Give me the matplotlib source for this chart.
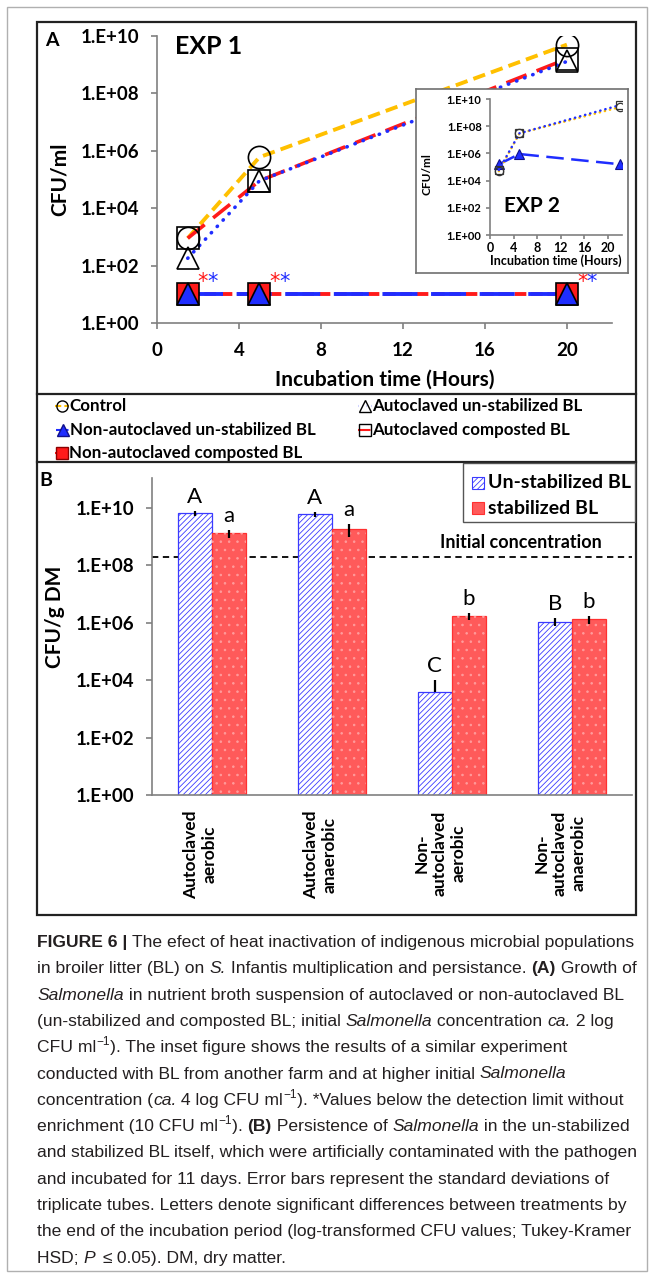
import numpy as np
import matplotlib
matplotlib.use('Agg')
import matplotlib.pyplot as plt
from matplotlib.patches import Rectangle
from matplotlib.lines import Line2D
from matplotlib.ticker import NullLocator
from matplotlib.transforms import ScaledTranslation

plt.rcParams['font.family'] = ['Lato', 'DejaVu Sans']
plt.rcParams['hatch.linewidth'] = 0.6

W, H = 654, 1277

# ---- panel A: EXP 1 (CFU/ml) ----
hours_exp1 = [1.5, 5, 20]
control_exp1 = [9.0e2, 6.0e5, 5.0e9]
auto_unstab_exp1 = [1.8e2, 9.0e4, 1.3e9]
auto_comp_exp1 = [9.0e2, 9.0e4, 1.6e9]
nonauto_unstab_exp1 = [10, 10, 10]
nonauto_comp_exp1 = [10, 10, 10]

# ---- inset: EXP 2 ----
hours_exp2 = [1.5, 5, 22]
control_exp2 = [5.0e4, 3.0e7, 2.5e9]
auto_exp2 = [6.0e4, 3.0e7, 3.5e9]
nonauto_exp2 = [1.6e5, 9.0e5, 1.6e5]

log_ticks = [1e0, 1e2, 1e4, 1e6, 1e8, 1e10]
log_labels = ['1.E+00', '1.E+02', '1.E+04', '1.E+06', '1.E+08', '1.E+10']

# ---- panel B: CFU/g DM after 11 days ----
treatments = ['Autoclaved\naerobic', 'Autoclaved\nanaerobic',
              'Non-\nautoclaved\naerobic', 'Non-\nautoclaved\nanaerobic']
unstab_cfu = [6.5e9, 6.0e9, 3.8e3, 1.1e6]
unstab_sd = [1.3e9, 1.0e9, 6.0e3, 0.35e6]
stab_cfu = [1.3e9, 1.9e9, 1.7e6, 1.3e6]
stab_sd = [0.4e9, 0.9e9, 0.5e6, 0.4e6]
unstab_letters = ['A', 'A', 'C', 'B']
stab_letters = ['a', 'a', 'b', 'b']
initial_cfu = 1.9e8

ORANGE = '#ffc000'
BLUE = '#1f2dff'
RED = '#ff1a1a'
AXCOL = '#808080'
CAPCOL = '#231f20'


def px_rect(x0, y0, x1, y1):
    return [x0 / W, 1 - y1 / H, (x1 - x0) / W, (y1 - y0) / H]


def style_log_axis(ax, size, pad):
    ax.set_yscale('log')
    ax.set_ylim(1, 1e10)
    ax.set_yticks(log_ticks)
    ax.set_yticklabels(log_labels, fontweight='bold', fontsize=size)
    ax.yaxis.set_minor_locator(NullLocator())
    for s in ['top', 'right']:
        ax.spines[s].set_visible(False)
    for s in ['left', 'bottom']:
        ax.spines[s].set_color(AXCOL)
        ax.spines[s].set_linewidth(1.2)
    ax.tick_params(direction='out', length=4, width=1.2, color=AXCOL, pad=pad)


fig = plt.figure(figsize=(W / 100, H / 100), dpi=100)

# full-figure pixel canvas for frames, legends and the caption
bg = fig.add_axes([0, 0, 1, 1], zorder=0)
bg.set_xlim(0, W)
bg.set_ylim(H, 0)
bg.axis('off')

bg.add_patch(Rectangle((7, 7), 640, 1264, fill=False, edgecolor='#b0b0b0', lw=1))
bg.add_patch(Rectangle((37, 22), 599, 893, fill=False, edgecolor='#222222', lw=1.6))
bg.plot([37, 636], [394, 394], color='#222222', lw=1.6)
bg.plot([37, 636], [462, 462], color='#222222', lw=1.6)
bg.text(52, 41, 'A', fontsize=14, fontweight='bold', ha='center', va='center')
bg.text(46, 480, 'B', fontsize=14, fontweight='bold', ha='center', va='center')

# ---------------- panel A ----------------
axA = fig.add_axes(px_rect(157, 36, 612, 323), zorder=1)
axA.set_facecolor('none')
style_log_axis(axA, 13.5, 9)
axA.set_xlim(0, 22.2)
axA.set_xticks([0, 4, 8, 12, 16, 20])
axA.set_xticklabels(['0', '4', '8', '12', '16', '20'], fontweight='bold', fontsize=13.5)
axA.tick_params(axis='x', pad=10)
axA.set_xlabel('Incubation time (Hours)', fontsize=15, fontweight='bold', va='center')
axA.xaxis.set_label_coords(0.5, -(380 - 323) / 287)
axA.set_ylabel('CFU/ml', fontsize=15, fontweight='bold', va='center')
axA.yaxis.set_label_coords((60 - 157) / 455, 0.5)

axA.plot(hours_exp1, nonauto_comp_exp1, color=RED, lw=2.8, dashes=(3, 1.2), zorder=2)
axA.plot(hours_exp1, nonauto_unstab_exp1, color=BLUE, lw=2.8, dashes=(9, 3.5), zorder=2)
axA.plot(hours_exp1, control_exp1, color=ORANGE, lw=2.8, dashes=(3.2, 1.6), zorder=2)
axA.plot(hours_exp1, auto_comp_exp1, color=RED, lw=2.6, dashes=(6, 3), zorder=2)
axA.plot(hours_exp1, auto_unstab_exp1, color=BLUE, lw=2.6, dashes=(0.1, 2.3),
         dash_capstyle='round', zorder=2)

mk = dict(ls='none', ms=16, mec='black', mew=1.2, zorder=3)
axA.plot(hours_exp1, control_exp1, marker='o', mfc='none', **mk)
axA.plot(hours_exp1, auto_comp_exp1, marker='s', mfc='none', **mk)
axA.plot(hours_exp1, auto_unstab_exp1, marker='^', mfc='none', **mk)
axA.plot(hours_exp1, nonauto_comp_exp1, marker='s', mfc=RED, **mk)
axA.plot(hours_exp1, nonauto_unstab_exp1, marker='^', mfc=BLUE, **mk)

# below detection limit without enrichment
for h, v in zip(hours_exp1, nonauto_unstab_exp1):
    axA.annotate('*', (h, v), xytext=(11, 9), textcoords='offset points', color=RED,
                 fontsize=15, ha='center', va='center', family='DejaVu Sans')
    axA.annotate('*', (h, v), xytext=(18, 9), textcoords='offset points', color=BLUE,
                 fontsize=15, ha='center', va='center', family='DejaVu Sans')

axA.text((175 - 157) / 455, 1 - (46 - 36) / 287, 'EXP 1', transform=axA.transAxes,
         fontsize=18, fontweight='bold', va='center', ha='left')

# ---------------- inset (EXP 2) ----------------
frame = fig.add_axes(px_rect(416, 89, 628, 273), zorder=2)
frame.set_xticks([])
frame.set_yticks([])
for s in frame.spines.values():
    s.set_color('#707070')
    s.set_linewidth(1.2)

axI = fig.add_axes(px_rect(490, 99, 622, 235), zorder=3)
axI.set_facecolor('none')
style_log_axis(axI, 8, 3)
axI.tick_params(length=3)
axI.set_xlim(0, 22.4)
axI.set_xticks([0, 4, 8, 12, 16, 20])
axI.set_xticklabels(['0', '4', '8', '12', '16', '20'], fontweight='bold', fontsize=9)
axI.tick_params(axis='x', pad=2)
axI.set_xlabel('Incubation time (Hours)', fontsize=9, fontweight='bold', labelpad=0)
axI.set_ylabel('CFU/ml', fontsize=8.5, fontweight='bold', va='center')
axI.yaxis.set_label_coords((427 - 490) / 132, 0.45)

axI.plot(hours_exp2, nonauto_exp2, color=BLUE, lw=1.8, dashes=(7, 3), marker='^', ms=7,
         mfc=BLUE, mec='#10108a', mew=0.8)
axI.plot(hours_exp2, control_exp2, color=ORANGE, lw=1.8, dashes=(0.1, 2),
         dash_capstyle='round', marker='o', ms=6, mfc='none', mec='#333333', mew=0.9)
axI.plot(hours_exp2, auto_exp2, color=BLUE, lw=1.8, dashes=(0.1, 2),
         dash_capstyle='round', marker='s', ms=6, mfc='none', mec='#333333', mew=0.9)
axI.text((532 - 490) / 132, 1 - (206 - 99) / 136, 'EXP 2', transform=axI.transAxes,
         fontsize=15, fontweight='bold', ha='center', va='center')

# ---------------- legend for panel A ----------------
legend_rows = [
    (62, 406, 'Control', ORANGE, (3, 1.5), 'o', 'none', 'black'),
    (365, 406, 'Autoclaved un-stabilized BL', BLUE, (0.1, 2), '^', 'none', 'black'),
    (63, 430, 'Non-autoclaved un-stabilized BL', BLUE, (6, 2), '^', BLUE, '#10108a'),
    (365, 430, 'Autoclaved composted BL', RED, (6, 2), 's', 'none', 'black'),
    (62, 453, 'Non-autoclaved composted BL', RED, (6, 2), 's', RED, '#8a0000'),
]
for x, y, label, col, dsh, m, fc, ec in legend_rows:
    bg.add_line(Line2D([x - 7, x + 7], [y, y], color=col, lw=1.5, dashes=dsh))
    bg.add_line(Line2D([x], [y], ls='none', marker=m, ms=8, mfc=fc, mec=ec, mew=1))
    bg.text(x + 7, y, label, fontsize=12.2, fontweight='bold', va='center', ha='left')

# ---------------- panel B ----------------
axB = fig.add_axes(px_rect(152, 478, 632, 795), zorder=1)
axB.set_facecolor('none')
style_log_axis(axB, 13.5, 9)
axB.set_ylim(1, 1.1e11)
axB.set_ylabel('CFU/g DM', fontsize=15, fontweight='bold', va='center')
axB.yaxis.set_label_coords((55 - 152) / 480, (795 - 617) / 317)

xs = np.arange(len(treatments))
bw = 0.285
unstab = np.array(unstab_cfu)
stab = np.array(stab_cfu)
u_sd = np.array(unstab_sd)
s_sd = np.array(stab_sd)

axB.bar(xs - bw / 2, unstab, bw, color='white', edgecolor='#3a3aff', hatch='//////',
        lw=0.9, zorder=2)
axB.bar(xs + bw / 2, stab, bw, color='#ff5a5a', edgecolor='#ff3030', lw=0.9, zorder=2)
axB.bar(xs + bw / 2, stab, bw, color='none', edgecolor='#ff9c9c', hatch='..', lw=0,
        zorder=2)

u_lo = np.where(u_sd >= unstab, 0, u_sd)
s_lo = np.where(s_sd >= stab, 0, s_sd)
axB.errorbar(xs - bw / 2, unstab, yerr=[u_lo, u_sd], fmt='none', ecolor='black',
             elinewidth=1.6, capsize=0, zorder=3)
axB.errorbar(xs + bw / 2, stab, yerr=[s_lo, s_sd], fmt='none', ecolor='black',
             elinewidth=1.6, capsize=0, zorder=3)

for i in range(len(treatments)):
    axB.annotate(unstab_letters[i], (xs[i] - bw / 2, unstab[i] + u_sd[i]), xytext=(0, 3),
                 textcoords='offset points', ha='center', va='bottom', fontsize=16)
    axB.annotate(stab_letters[i], (xs[i] + bw / 2, stab[i] + s_sd[i]), xytext=(0, 3),
                 textcoords='offset points', ha='center', va='bottom', fontsize=16)

axB.axhline(initial_cfu, color='black', lw=1.3, dashes=(3.5, 2.5), zorder=1)
axB.annotate('Initial concentration', (2.57, initial_cfu), xytext=(0, 11),
             textcoords='offset points', ha='center', va='center', fontsize=13,
             fontweight='bold')

axB.set_xlim(-0.5, 3.5)
axB.set_xticks(xs)
axB.set_xticklabels(treatments, rotation=90, fontweight='bold', fontsize=12.5,
                    va='top', ha='center', multialignment='center')
axB.tick_params(axis='x', length=0, pad=11)
shift = ScaledTranslation(-12 / 100, 0, fig.dpi_scale_trans)
for lbl in axB.get_xticklabels():
    lbl.set_transform(lbl.get_transform() + shift)

# legend for panel B
bg.add_patch(Rectangle((463, 463), 172, 59, facecolor='white', edgecolor='#555555',
                       lw=1, zorder=3))
bg.add_patch(Rectangle((472, 477), 12, 12, facecolor='white', edgecolor='#3a3aff',
                       hatch='//////', lw=0.8, zorder=4))
bg.add_patch(Rectangle((472, 502), 12, 12, facecolor='#ff5a5a', edgecolor='#ff3030',
                       lw=0.8, zorder=4))
bg.text(488, 483, 'Un-stabilized BL', fontsize=14, fontweight='bold', va='center',
        zorder=5)
bg.text(488, 508, 'stabilized BL', fontsize=14, fontweight='bold', va='center', zorder=5)

# ---------------- caption ----------------
caption = [
    [('FIGURE 6 | ', 'b'), ('The efect of heat inactivation of indigenous microbial populations', 'n')],
    [('in broiler litter (BL) on ', 'n'), ('S.', 'i'), (' Infantis multiplication and persistance. ', 'n'),
     ('(A)', 'b'), (' Growth of', 'n')],
    [('Salmonella', 'i'), (' in nutrient broth suspension of autoclaved or non-autoclaved BL', 'n')],
    [('(un-stabilized and composted BL; initial ', 'n'), ('Salmonella', 'i'), (' concentration ', 'n'),
     ('ca.', 'i'), (' 2 log', 'n')],
    [('CFU ml', 'n'), ('\u22121', 's'), ('). The inset figure shows the results of a similar experiment', 'n')],
    [('conducted with BL from another farm and at higher initial ', 'n'), ('Salmonella', 'i')],
    [('concentration (', 'n'), ('ca.', 'i'), (' 4 log CFU ml', 'n'), ('\u22121', 's'),
     ('). *Values below the detection limit without', 'n')],
    [('enrichment (10 CFU ml', 'n'), ('\u22121', 's'), ('). ', 'n'), ('(B)', 'b'), (' Persistence of ', 'n'),
     ('Salmonella', 'i'), (' in the un-stabilized', 'n')],
    [('and stabilized BL itself, which were artificially contaminated with the pathogen', 'n')],
    [('and incubated for 11 days. Error bars represent the standard deviations of', 'n')],
    [('triplicate tubes. Letters denote significant differences between treatments by', 'n')],
    [('the end of the incubation period (log-transformed CFU values; Tukey-Kramer', 'n')],
    [('HSD; ', 'n'), ('P', 'i'), ('  ', 'n'), ('\u2264', 'n'), (' 0.05). DM, dry matter.', 'n')],
]

cap_font = ['Liberation Sans', 'DejaVu Sans']
cap_size = 12.6
styles = {
    'n': dict(fontsize=cap_size),
    'b': dict(fontsize=cap_size, fontweight='bold'),
    'i': dict(fontsize=cap_size, style='italic'),
    's': dict(fontsize=cap_size * 0.68),
}
renderer = fig.canvas.get_renderer()


def run_width(txt, kw):
    a = bg.text(0, 0, '.' + txt + '.', family=cap_font, **kw)
    b = bg.text(0, 0, '..', family=cap_font, **kw)
    w = a.get_window_extent(renderer).width - b.get_window_extent(renderer).width
    a.remove()
    b.remove()
    return w


for i, line in enumerate(caption):
    x = 37
    y = 947 + 26.3 * i
    for txt, st in line:
        kw = styles[st]
        yy = y - 7 if st == 's' else y
        bg.text(x, yy, txt, family=cap_font, color=CAPCOL, va='baseline', ha='left', **kw)
        x += run_width(txt, kw)

fig.savefig('out.png', dpi=100)
